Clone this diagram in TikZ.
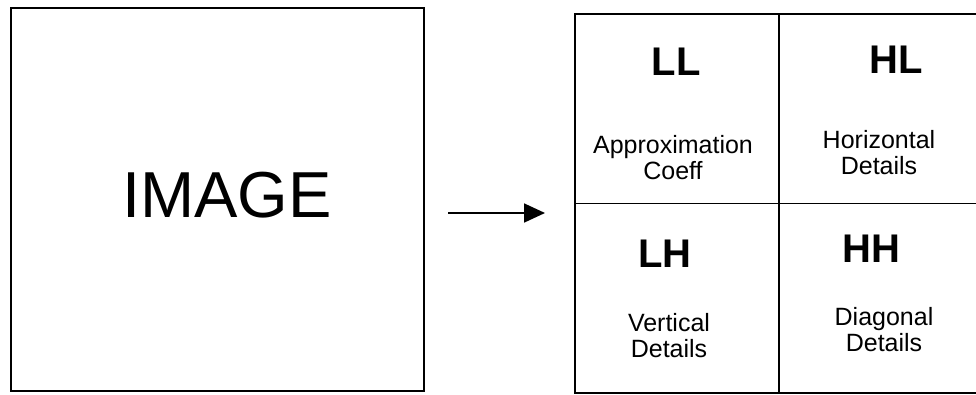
\documentclass[tikz,border=0pt]{standalone}
\usepackage{fontspec}
\setmainfont{Liberation Sans}
\usetikzlibrary{arrows.meta,positioning}

\begin{document}
\begin{tikzpicture}[
    x=1pt, y=1pt,
    panel/.style={
      draw,
      line width=1.5pt,
      inner sep=0pt,
      outer sep=0pt
    },
    cell/.style={
      panel,
      minimum width=204pt,
      minimum height=189.5pt
    },
    band/.style={font=\fontsize{40}{40}\selectfont\bfseries},
    detail/.style={align=center, font=\fontsize{25}{26}\selectfont},
    arrow/.style={-{Triangle[length=21pt,width=19pt]}, line width=1.8pt}
  ]
    \useasboundingbox (0,0) rectangle (976,394);

    % input picture
    \node[panel, minimum width=413pt, minimum height=383pt] (img) at (217.5,194.5) {};
    \node[font=\fontsize{65}{65}\selectfont] (imgtxt) at (227,199) {IMAGE};

    % sub-bands after one level of decomposition
    \node[cell] (ll) at (677,285.25) {};
    \node[cell, right=0pt of ll] (hl) {};
    \node[cell, below=0pt of ll] (lh) {};
    \node[cell, right=0pt of lh] (hh) {};

    \node[band] (lltxt) at (676,332) {LL};
    \node[detail] (lldesc) at (673,236) {Approximation\\Coeff};
    \node[band] (hltxt) at (896,334.5) {HL};
    \node[detail] (hldesc) at (879,241) {Horizontal\\Details};
    \node[band] (lhtxt) at (665,140.5) {LH};
    \node[detail] (lhdesc) at (669,58) {Vertical\\Details};
    \node[band] (hhtxt) at (871,145) {HH};
    \node[detail] (hhdesc) at (884,64.5) {Diagonal\\Details};

    \coordinate (src) at (448,181);
    \coordinate (dst) at (545,181);
    \draw[arrow] (src) -- (dst);
  \end{tikzpicture}
\end{document}
